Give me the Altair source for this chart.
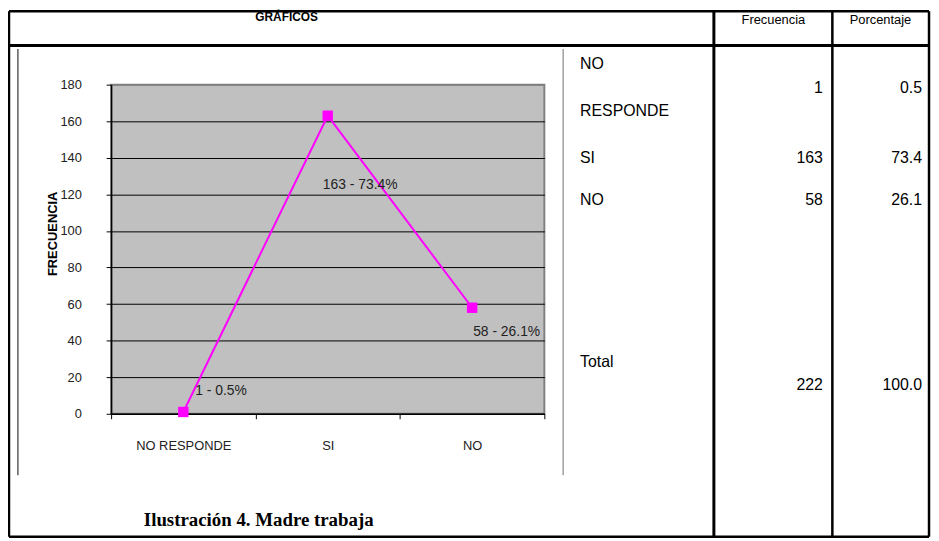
import altair as alt
import pandas as pd

# ---------------- data ----------------
categories = ["NO RESPONDE", "SI", "NO"]
frecuencia = [1, 163, 58]
porcentaje = [0.5, 73.4, 26.1]
total_label = "Total"
total_frecuencia = 222
total_porcentaje = 100.0
y_ticks = [0, 20, 40, 60, 80, 100, 120, 140, 160, 180]
header_labels = ["GRÁFICOS", "Frecuencia", "Porcentaje"]
y_title = "FRECUENCIA"
caption = "Ilustración 4. Madre trabaja"

df = pd.DataFrame({"cat": categories, "freq": frecuencia, "pct": porcentaje})
df["label"] = [f"{f} - {p}%" for f, p in zip(frecuencia, porcentaje)]

table = pd.DataFrame({
    "row": categories + [total_label],
    "freq": frecuencia + [total_frecuencia],
    "pct": [f"{p:.1f}" for p in porcentaje + [total_porcentaje]],
})

# ---------------- layout (pixels, relative to plot origin) ----------------
W, H = 437, 332
PAD = {"left": 104, "top": 75, "right": 390, "bottom": 126}
LEFT, RIGHT = -103, 825
TOP, BOTTOM = -74, 456
SANS = "Liberation Sans, Arial"
SERIF = "Liberation Serif, Times New Roman"

dummy = pd.DataFrame({"a": [0]})


def hrule(y, x1, x2, w=2, color="black"):
    return alt.Chart(dummy).mark_rule(color=color, strokeWidth=w).encode(
        x=alt.value(x1), x2=alt.value(x2), y=alt.value(y))


def vrule(x, y1, y2, w=2, color="black"):
    return alt.Chart(dummy).mark_rule(color=color, strokeWidth=w).encode(
        x=alt.value(x), y=alt.value(y1), y2=alt.value(y2))


def label(text, x, y, size=13, weight="normal", font=SANS, align="center"):
    return alt.Chart(dummy).mark_text(
        text=text, fontSize=size, fontWeight=weight, font=font, align=align,
        baseline="middle", color="black").encode(x=alt.value(x), y=alt.value(y))


# ---------------- plot ----------------
x_enc = alt.X(
    "cat:N", sort=categories,
    scale=alt.Scale(paddingInner=0, paddingOuter=0),
    axis=alt.Axis(title=None, labelAngle=0, tickBand="extent", tickSize=5,
                  tickColor="black", domainColor="black", domainWidth=1.5,
                  labelPadding=21, labelFontSize=13, labelFont=SANS,
                  labelColor="#222", grid=False))
y_enc = alt.Y(
    "freq:Q",
    scale=alt.Scale(domain=[0, 180], nice=False, zero=True),
    axis=alt.Axis(values=y_ticks, title=y_title, titleFontWeight="bold",
                  titleFontSize=13, titleFont=SANS, titleColor="black",
                  titleAngle=-90, titleX=-59, titleY=150, titleAlign="center",
                  titleBaseline="middle",
                  grid=True,
                  gridColor=alt.condition("datum.value == 180",
                                          alt.value("#808080"), alt.value("black")),
                  gridWidth=1, tickSize=5, tickColor="black",
                  domainColor="black", domainWidth=1.5,
                  labelPadding=25, labelFontSize=13, labelFont=SANS,
                  labelColor="#222"))

base = alt.Chart(df).encode(x=x_enc, y=y_enc)
line = base.mark_line(color="#FF00FF", strokeWidth=2)
pts = base.mark_square(color="#FF00FF", size=110, opacity=1)

offsets = {"NO RESPONDE": (12, -21), "SI": (-5, 70), "NO": (1, 25)}
text_layers = []
for c in categories:
    dx, dy = offsets[c]
    text_layers.append(
        base.mark_text(align="left", baseline="middle", dx=dx, dy=dy,
                       fontSize=14, font=SANS, color="#222")
        .encode(text="label:N")
        .transform_filter(alt.datum.cat == c))

plot = alt.layer(line, pts, *text_layers)

# ---------------- table frame ----------------
frame = [
    hrule(TOP, LEFT, RIGHT, 2.5),
    hrule(-39.5, LEFT, RIGHT, 3),
    hrule(BOTTOM, LEFT, RIGHT, 2.5),
    vrule(LEFT, TOP, BOTTOM, 2.5),
    vrule(RIGHT, TOP, BOTTOM, 2.5),
    vrule(608, TOP, BOTTOM, 3),
    vrule(727.5, TOP, BOTTOM, 2.5),
    vrule(-94, -36, 394, 1.2, "#333"),
    vrule(456, -36, 394, 1.5, "#a0a0a0"),
]

headers = [
    label(header_labels[0], 177, -68, 12, "bold"),
    label(header_labels[1], 668, -65, 13),
    label(header_labels[2], 776, -65, 13),
    label(caption, 33, 439, 19, "bold", SERIF, "left"),
]

# ---------------- table body ----------------
row_label_y = [-21, 74, 116, 280]
row_value_y = [3, 74, 116, 303]
table_layers = []
rows = categories + [total_label]
for r, ly, vy in zip(rows, row_label_y, row_value_y):
    tb = alt.Chart(table).transform_filter(alt.datum.row == r)
    table_layers.append(
        tb.mark_text(align="left", baseline="middle", fontSize=16, font=SANS,
                     lineBreak=" ", lineHeight=48, color="black")
        .encode(x=alt.value(473), y=alt.value(ly), text="row:N"))
    table_layers.append(
        tb.mark_text(align="right", baseline="middle", fontSize=16, font=SANS,
                     color="black")
        .encode(x=alt.value(718), y=alt.value(vy), text="freq:Q"))
    table_layers.append(
        tb.mark_text(align="right", baseline="middle", fontSize=16, font=SANS,
                     color="black")
        .encode(x=alt.value(818), y=alt.value(vy), text="pct:N"))

chart = alt.layer(plot, *frame, *headers, *table_layers).properties(
    width=W, height=H, padding=PAD, autosize="none", background="white"
).configure_view(fill="#C0C0C0", stroke="#808080", strokeWidth=2)

chart.save("out.html", embed_options={"renderer": "svg", "actions": False})
